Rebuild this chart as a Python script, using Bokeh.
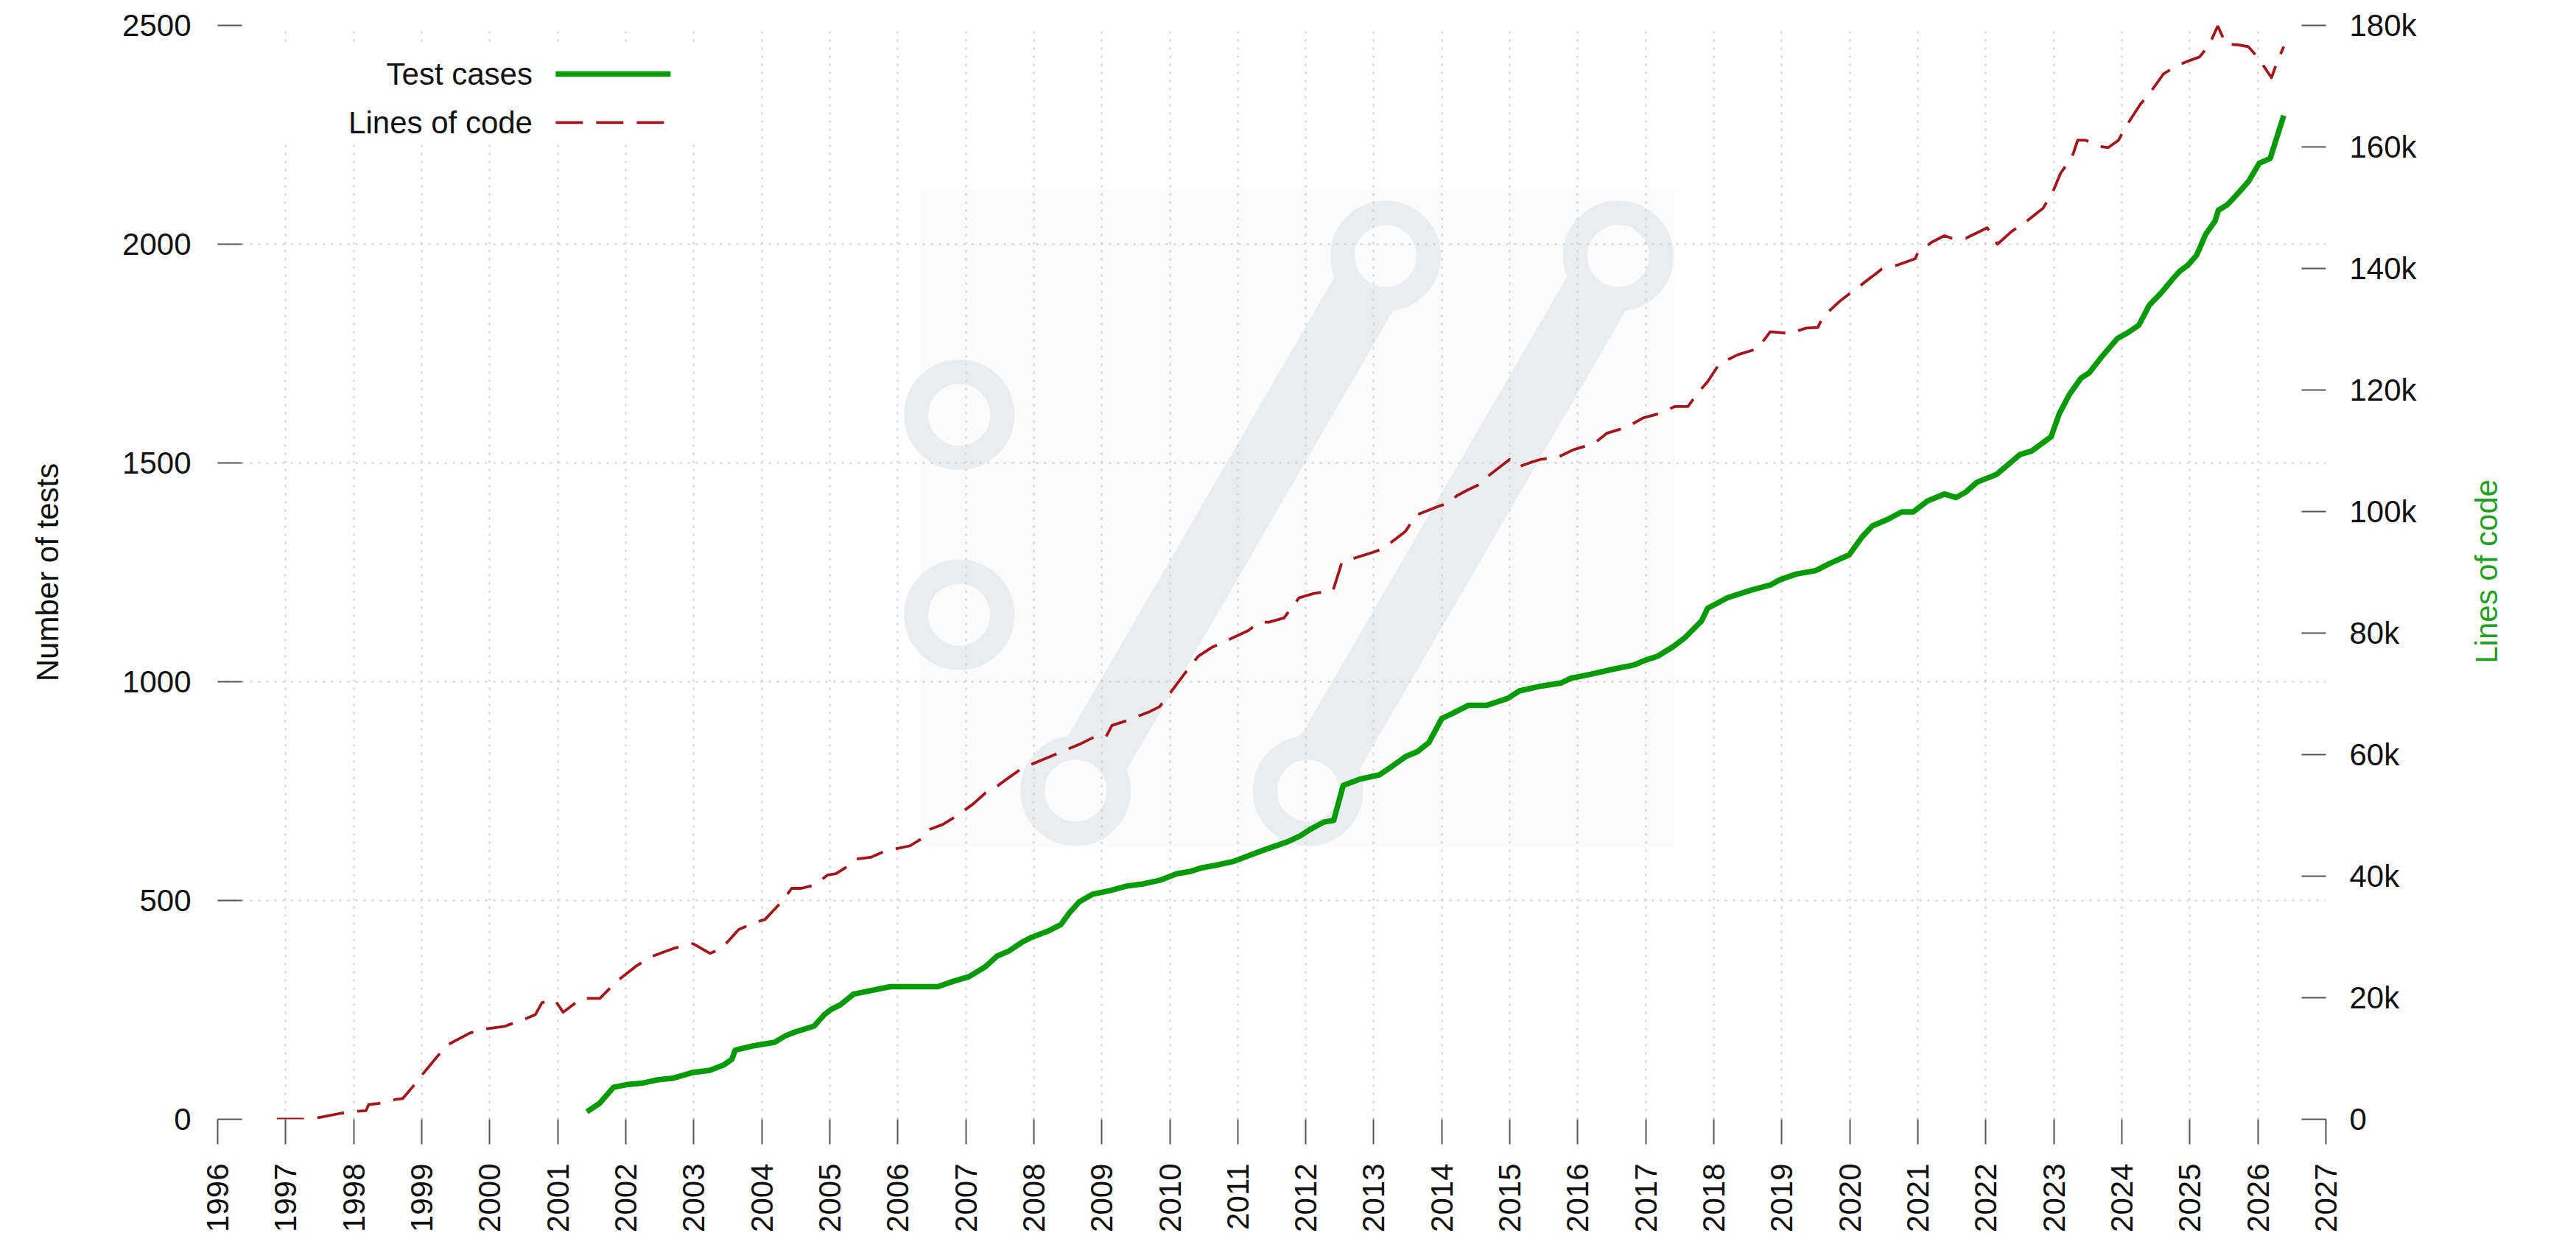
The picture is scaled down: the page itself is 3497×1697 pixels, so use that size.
import math
from bokeh.plotting import figure
from bokeh.models import Range1d, LinearAxis, FixedTicker
from bokeh.core.properties import value
from bokeh.embed import file_html
from bokeh.resources import INLINE

# ---------------- data ----------------
TEST_YEARS = [2001.43, 2001.62, 2001.82, 2002.01, 2002.26, 2002.46, 2002.70, 2002.99, 2003.24, 2003.44,
              2003.56, 2003.61, 2003.85, 2004.19, 2004.34, 2004.48, 2004.77, 2004.92, 2005.02, 2005.16,
              2005.35, 2005.60, 2005.89, 2006.23, 2006.59, 2006.81, 2007.05, 2007.29, 2007.46, 2007.63,
              2007.82, 2007.97, 2008.21, 2008.40, 2008.52, 2008.67, 2008.86, 2009.13, 2009.37, 2009.61,
              2009.85, 2010.10, 2010.29, 2010.48, 2010.66, 2010.93, 2011.10, 2011.34, 2011.73, 2011.92,
              2012.07, 2012.26, 2012.41, 2012.55, 2012.79, 2013.08, 2013.28, 2013.47, 2013.64, 2013.81,
              2014.00, 2014.15, 2014.39, 2014.66, 2014.97, 2015.14, 2015.46, 2015.75, 2015.90, 2016.19,
              2016.53, 2016.82, 2016.99, 2017.17, 2017.40, 2017.57, 2017.82, 2017.91, 2018.20, 2018.54,
              2018.83, 2018.97, 2019.21, 2019.50, 2019.70, 2019.99, 2020.18, 2020.33, 2020.57, 2020.76,
              2020.93, 2021.14, 2021.39, 2021.56, 2021.70, 2021.87, 2022.16, 2022.31, 2022.50, 2022.67,
              2022.96, 2023.08, 2023.23, 2023.40, 2023.52, 2023.69, 2023.93, 2024.09, 2024.25, 2024.40,
              2024.58, 2024.74, 2024.85, 2024.97, 2025.10, 2025.23, 2025.37, 2025.42, 2025.55, 2025.70,
              2025.86, 2026.02, 2026.18, 2026.38]
TEST_CASES = [17, 37, 73, 79, 83, 90, 94, 107, 112, 124,
              137, 158, 167, 176, 190, 199, 213, 239, 251, 262,
              286, 294, 303, 303, 303, 315, 326, 349, 373, 384,
              404, 416, 430, 445, 471, 497, 514, 523, 533, 538,
              546, 561, 566, 575, 580, 589, 599, 613, 634, 648,
              663, 679, 683, 763, 777, 787, 808, 829, 840, 861,
              916, 927, 946, 946, 962, 979, 990, 997, 1008, 1017,
              1029, 1038, 1049, 1058, 1080, 1100, 1139, 1168, 1192, 1209,
              1221, 1233, 1246, 1254, 1270, 1290, 1331, 1356, 1372, 1388,
              1388, 1413, 1429, 1421, 1433, 1456, 1474, 1494, 1519, 1527,
              1560, 1613, 1657, 1694, 1706, 1740, 1784, 1798, 1815, 1860,
              1889, 1919, 1938, 1952, 1975, 2022, 2053, 2078, 2090, 2115,
              2143, 2185, 2196, 2294]

LOC_YEARS = [1996.87, 1997.25, 1997.45, 1997.82, 1998.04, 1998.18, 1998.22, 1998.36, 1998.58, 1998.72,
             1998.88, 1999.02, 1999.25, 1999.39, 1999.71, 1999.96, 2000.22, 2000.52, 2000.67, 2000.77,
             2000.96, 2001.08, 2001.35, 2001.62, 2001.87, 2002.14, 2002.36, 2002.70, 2002.99, 2003.24,
             2003.41, 2003.66, 2003.88, 2004.05, 2004.31, 2004.44, 2004.58, 2004.77, 2004.97, 2005.09,
             2005.26, 2005.38, 2005.60, 2005.81, 2006.18, 2006.37, 2006.47, 2006.66, 2006.85, 2007.10,
             2007.29, 2007.46, 2007.63, 2007.82, 2008.16, 2008.35, 2008.69, 2008.89, 2009.06, 2009.15,
             2009.37, 2009.71, 2009.85, 2010.05, 2010.29, 2010.42, 2010.61, 2010.90, 2011.15, 2011.32,
             2011.46, 2011.68, 2011.90, 2012.11, 2012.40, 2012.53, 2012.65, 2012.99, 2013.11, 2013.30,
             2013.47, 2013.62, 2013.96, 2014.10, 2014.22, 2014.39, 2014.54, 2014.71, 2015.00, 2015.14,
             2015.31, 2015.46, 2015.70, 2015.94, 2016.24, 2016.43, 2016.72, 2016.96, 2017.19, 2017.43,
             2017.62, 2017.77, 2017.91, 2018.08, 2018.35, 2018.64, 2018.83, 2019.12, 2019.36, 2019.53,
             2019.60, 2019.85, 2020.19, 2020.47, 2020.71, 2020.96, 2021.00, 2021.20, 2021.39, 2021.49,
             2021.71, 2022.02, 2022.17, 2022.38, 2022.60, 2022.84, 2022.98, 2023.10, 2023.27, 2023.35,
             2023.47, 2023.68, 2023.80, 2023.95, 2024.05, 2024.27, 2024.42, 2024.61, 2024.81, 2024.99,
             2025.14, 2025.28, 2025.41, 2025.53, 2025.71, 2025.86, 2026.00, 2026.20, 2026.29, 2026.38]
LINES_OF_CODE_K = [0.0, 0.0, 0.2, 1.0, 1.3, 1.4, 2.4, 2.6, 3.2, 3.4,
                   5.5, 7.5, 10.6, 12.3, 14.2, 14.9, 15.3, 16.5, 17.2, 19.2,
                   19.6, 17.6, 19.9, 19.9, 22.7, 25.1, 26.7, 28.1, 28.9, 27.3,
                   28.1, 31.2, 32.3, 32.9, 36.0, 38.0, 38.0, 38.5, 40.2, 40.4,
                   41.6, 42.8, 43.1, 44.1, 45.0, 46.3, 47.7, 48.5, 49.8, 51.8,
                   53.7, 54.8, 56.2, 57.7, 59.3, 60.2, 61.8, 62.9, 62.9, 64.8,
                   65.6, 67.1, 67.9, 70.8, 74.4, 76.2, 77.6, 79.1, 80.4, 81.8,
                   81.8, 82.5, 85.8, 86.5, 87.0, 91.6, 92.1, 93.3, 93.8, 95.3,
                   96.8, 99.4, 100.9, 101.4, 102.6, 103.6, 104.4, 106.1, 108.6, 107.4,
                   108.1, 108.6, 108.9, 110.2, 111.2, 112.9, 113.9, 115.4, 116.1, 117.3,
                   117.3, 119.6, 121.4, 124.3, 125.8, 126.8, 129.6, 129.3, 130.2, 130.3,
                   132.0, 134.6, 137.5, 139.9, 140.6, 141.6, 142.6, 144.3, 145.4, 145.0,
                   145.0, 146.7, 144.0, 146.1, 147.8, 149.9, 152.5, 155.7, 158.4, 161.1,
                   161.1, 160.1, 159.9, 161.1, 163.2, 167.0, 169.0, 172.0, 173.4, 174.2,
                   174.8, 176.7, 179.9, 176.9, 176.8, 176.5, 174.7, 171.4, 174.2, 176.5]

YEAR_TICKS = list(range(1996, 2028))
TEST_TICKS = [0, 500, 1000, 1500, 2000, 2500]
LOC_TICKS = [0, 20, 40, 60, 80, 100, 120, 140, 160, 180]
LOC_TICK_LABELS = ["0", "20k", "40k", "60k", "80k", "100k", "120k", "140k", "160k", "180k"]
LEGEND_LABELS = ["Test cases", "Lines of code"]
RIGHT_TITLE = "Lines of code"

# ---------------- decoration (watermark logo + legend placement) ----------------
WM_RING_X = [2006.905, 2006.905, 2008.615, 2013.174, 2012.033, 2016.594]
WM_RING_Y = [1610, 1153, 751, 1973, 751, 1973]
WM_BAR_X0 = [2008.93, 2012.349]
WM_BAR_Y0 = [835.7, 835.7]
WM_BAR_X1 = [2012.859, 2016.278]
WM_BAR_Y1 = [1888.2, 1888.2]
WM_COLOR = "#e9edf0"
RIGHT_TITLE_ANCHOR = 75   # where (on the LOC scale) the bottom-to-top title starts

GREEN = "#069a06"
RED = "#a3171c"
FONT = "Liberation Sans"
FS = "42px"

p = figure(width=3480, height=1680,
           x_range=Range1d(1996, 2027), y_range=Range1d(0, 2500),
           output_backend="svg", toolbar_location=None,
           min_border_left=295, min_border_right=323,
           min_border_top=34, min_border_bottom=161)
p.outline_line_color = None
p.background_fill_color = "white"
p.border_fill_color = "white"
p.extra_y_ranges = {"loc": Range1d(0, 180)}

# faint background square of the watermark
p.quad(left=[2006.33], right=[2017.44], bottom=[623], top=[2126],
       fill_color="#fbfbfc", line_color=None, level="image")
# watermark bars and rings
p.segment(x0=WM_BAR_X0, y0=WM_BAR_Y0, x1=WM_BAR_X1, y1=WM_BAR_Y1,
          line_color=WM_COLOR, line_width=92, line_cap="butt", level="image")
p.scatter(x=WM_RING_X, y=WM_RING_Y, marker="circle", size=117,
          fill_alpha=0, line_color=WM_COLOR, line_width=33, level="image")

# grid
for g in (p.xgrid[0], p.ygrid[0]):
    g.grid_line_color = "#cfcfcf"
    g.grid_line_width = 2
    g.grid_line_dash = "3 8"

# axes
xa = p.xaxis[0]
xa.ticker = FixedTicker(ticks=YEAR_TICKS)
xa.major_label_orientation = math.pi / 2
xa.axis_line_color = None
xa.major_tick_in = 0
xa.major_tick_out = 34
xa.major_tick_line_color = "#555555"
xa.major_tick_line_width = 2
xa.minor_tick_line_color = None
xa.major_label_standoff = 26
xa.major_label_text_font = FONT
xa.major_label_text_font_size = FS
xa.major_label_text_color = "#111111"

ya = p.yaxis[0]
ya.ticker = FixedTicker(ticks=TEST_TICKS)
ya.axis_line_color = None
ya.major_tick_in = 33
ya.major_tick_out = 0
ya.major_tick_line_color = "#555555"
ya.major_tick_line_width = 2
ya.minor_tick_line_color = None
ya.major_label_standoff = 36
ya.major_label_text_font = FONT
ya.major_label_text_font_size = FS
ya.major_label_text_color = "#111111"
ya.axis_label = "Number of tests"
ya.axis_label_text_font = FONT
ya.axis_label_text_font_size = FS
ya.axis_label_text_font_style = "normal"
ya.axis_label_text_color = "#111111"
ya.axis_label_standoff = 75

ra = LinearAxis(y_range_name="loc", ticker=FixedTicker(ticks=LOC_TICKS))
ra.major_label_overrides = {t: s for t, s in zip(LOC_TICKS, LOC_TICK_LABELS)}
ra.axis_line_color = None
ra.major_tick_in = 33
ra.major_tick_out = 0
ra.major_tick_line_color = "#555555"
ra.major_tick_line_width = 2
ra.minor_tick_line_color = None
ra.major_label_standoff = 32
ra.major_label_text_font = FONT
ra.major_label_text_font_size = FS
ra.major_label_text_color = "#111111"
p.add_layout(ra, "right")

# right-hand title "Lines of code": a tick-less axis whose single label is the title,
# rotated to read bottom-to-top (Bokeh starts such a label at its anchor)
ta = LinearAxis(y_range_name="loc", ticker=FixedTicker(ticks=[RIGHT_TITLE_ANCHOR]))
ta.major_label_overrides = {RIGHT_TITLE_ANCHOR: RIGHT_TITLE}
ta.major_label_orientation = math.pi / 2
ta.axis_line_color = None
ta.major_tick_line_color = None
ta.minor_tick_line_color = None
ta.major_tick_in = 0
ta.major_tick_out = 0
ta.major_label_standoff = 92
ta.major_label_text_font = FONT
ta.major_label_text_font_size = FS
ta.major_label_text_color = "#22a022"
p.add_layout(ta, "right")

# data lines
p.line(x=LOC_YEARS, y=LINES_OF_CODE_K, y_range_name="loc", line_color=RED,
       line_width=3.8, line_dash="37 18", line_join="round")
p.line(x=TEST_YEARS, y=TEST_CASES, line_color=GREEN, line_width=7.5, line_join="round")

# legend (label left of sample, as in the reference), white box hides grid
p.quad(left=[1996.0], right=[2003.5], bottom=[2230], top=[2450], fill_color="white", line_color=None)
p.text(x=[2000.63, 2000.63], y=[2389, 2278], text=LEGEND_LABELS,
       text_align="right", text_baseline="middle", text_font=value(FONT),
       text_font_size=FS, text_color="#111111")
p.segment(x0=[2000.97], y0=[2389], x1=[2002.66], y1=[2389], line_color=GREEN, line_width=7.5)
p.segment(x0=[2000.97], y0=[2278], x1=[2002.66], y1=[2278], line_color=RED, line_width=3.8,
          line_dash="37 18")

open("out.html", "w").write(file_html(p, INLINE))
